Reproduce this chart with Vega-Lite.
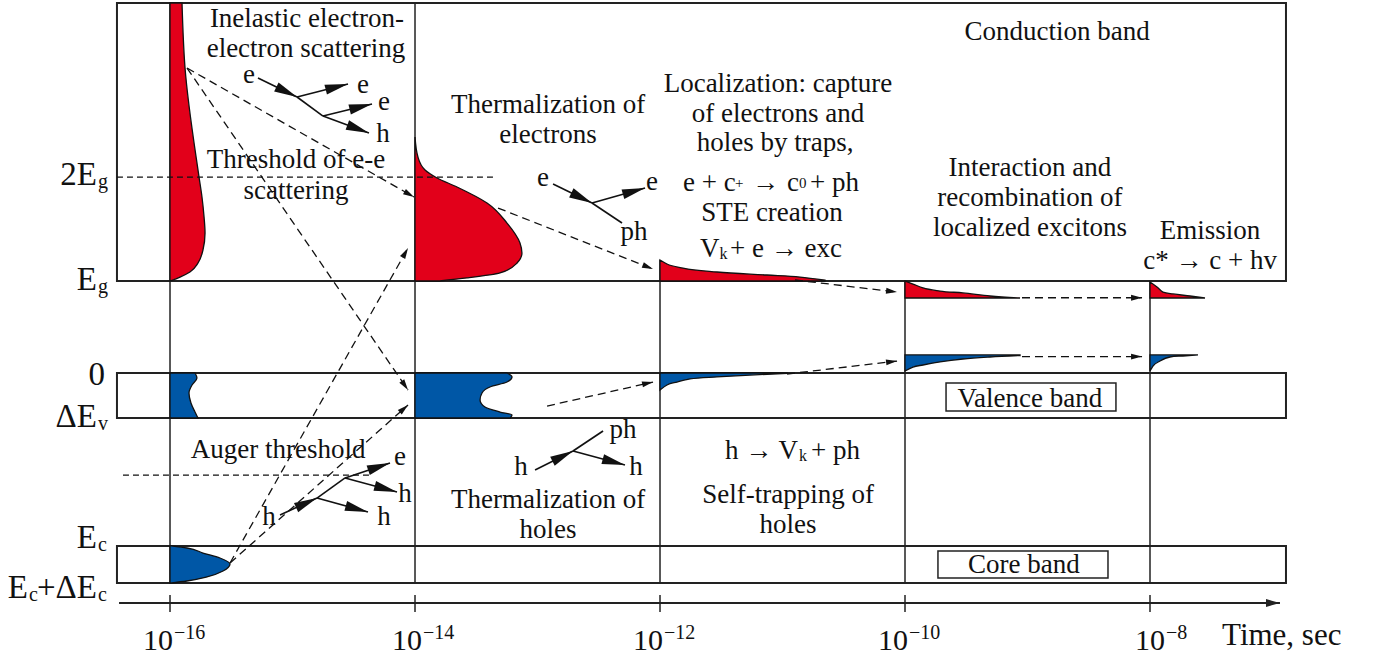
{
  "$schema": "https://vega.github.io/schema/vega-lite/v6.json",
  "width": 1378,
  "height": 657,
  "autosize": {"type": "none"},
  "padding": 0,
  "background": "white",
  "config": {"view": {"stroke": null}, "font": "Liberation Serif"},
  "datasets": {
    "bands": [
      {"band": "conduction", "t": -16.433, "t2": -6.89, "e": 10, "e2": 40.22},
      {"band": "valence", "t": -16.433, "t2": -6.89, "e": -4.89, "e2": 0},
      {"band": "core", "t": -16.433, "t2": -6.89, "e": -22.83, "e2": -18.8}
    ],
    "labelBoxes": [
      {"t": -9.665, "t2": -8.278, "e": -4.13, "e2": -1.09},
      {"t": -9.731, "t2": -8.343, "e": -22.28, "e2": -19.35}
    ],
    "stages": [
      {"t": -16, "e": -22.83, "e2": 40.22},
      {"t": -14, "e": -22.83, "e2": 40.22},
      {"t": -12, "e": -22.83, "e2": 12.28},
      {"t": -10, "e": -22.83, "e2": 10},
      {"t": -8, "e": -22.83, "e2": 10}
    ],
    "shapesH": [
      {"shape": "r1", "carrier": "electrons", "e": 10, "t": -16, "t2": -16},
      {"shape": "r1", "carrier": "electrons", "e": 10.43, "t": -15.918, "t2": -16},
      {"shape": "r1", "carrier": "electrons", "e": 10.98, "t": -15.837, "t2": -16},
      {"shape": "r1", "carrier": "electrons", "e": 11.96, "t": -15.771, "t2": -16},
      {"shape": "r1", "carrier": "electrons", "e": 13.37, "t": -15.731, "t2": -16},
      {"shape": "r1", "carrier": "electrons", "e": 15.22, "t": -15.714, "t2": -16},
      {"shape": "r1", "carrier": "electrons", "e": 16.96, "t": -15.722, "t2": -16},
      {"shape": "r1", "carrier": "electrons", "e": 19.13, "t": -15.739, "t2": -16},
      {"shape": "r1", "carrier": "electrons", "e": 21.3, "t": -15.763, "t2": -16},
      {"shape": "r1", "carrier": "electrons", "e": 33.26, "t": -15.878, "t2": -16},
      {"shape": "r1", "carrier": "electrons", "e": 40.22, "t": -15.902, "t2": -16},
      {"shape": "r2", "carrier": "electrons", "e": 10, "t": -13.8, "t2": -14},
      {"shape": "r2", "carrier": "electrons", "e": 10.33, "t": -13.576, "t2": -14},
      {"shape": "r2", "carrier": "electrons", "e": 10.87, "t": -13.306, "t2": -14},
      {"shape": "r2", "carrier": "electrons", "e": 11.96, "t": -13.167, "t2": -14},
      {"shape": "r2", "carrier": "electrons", "e": 13.04, "t": -13.127, "t2": -14},
      {"shape": "r2", "carrier": "electrons", "e": 14.13, "t": -13.143, "t2": -14},
      {"shape": "r2", "carrier": "electrons", "e": 16.3, "t": -13.249, "t2": -14},
      {"shape": "r2", "carrier": "electrons", "e": 18.48, "t": -13.412, "t2": -14},
      {"shape": "r2", "carrier": "electrons", "e": 20.22, "t": -13.657, "t2": -14},
      {"shape": "r2", "carrier": "electrons", "e": 21.2, "t": -13.82, "t2": -14},
      {"shape": "r2", "carrier": "electrons", "e": 22.07, "t": -13.918, "t2": -14},
      {"shape": "r2", "carrier": "electrons", "e": 23.48, "t": -13.976, "t2": -14},
      {"shape": "r2", "carrier": "electrons", "e": 25.65, "t": -14, "t2": -14},
      {"shape": "b1", "carrier": "holes", "e": -4.89, "t": -15.771, "t2": -16},
      {"shape": "b1", "carrier": "holes", "e": -4.67, "t": -15.78, "t2": -16},
      {"shape": "b1", "carrier": "holes", "e": -4.24, "t": -15.796, "t2": -16},
      {"shape": "b1", "carrier": "holes", "e": -3.26, "t": -15.829, "t2": -16},
      {"shape": "b1", "carrier": "holes", "e": -2.17, "t": -15.845, "t2": -16},
      {"shape": "b1", "carrier": "holes", "e": -1.3, "t": -15.82, "t2": -16},
      {"shape": "b1", "carrier": "holes", "e": -0.54, "t": -15.78, "t2": -16},
      {"shape": "b1", "carrier": "holes", "e": 0, "t": -15.796, "t2": -16},
      {"shape": "b2", "carrier": "holes", "e": -4.89, "t": -13.224, "t2": -14},
      {"shape": "b2", "carrier": "holes", "e": -4.57, "t": -13.208, "t2": -14},
      {"shape": "b2", "carrier": "holes", "e": -4.24, "t": -13.306, "t2": -14},
      {"shape": "b2", "carrier": "holes", "e": -3.7, "t": -13.429, "t2": -14},
      {"shape": "b2", "carrier": "holes", "e": -2.93, "t": -13.469, "t2": -14},
      {"shape": "b2", "carrier": "holes", "e": -2.17, "t": -13.453, "t2": -14},
      {"shape": "b2", "carrier": "holes", "e": -1.52, "t": -13.388, "t2": -14},
      {"shape": "b2", "carrier": "holes", "e": -0.98, "t": -13.249, "t2": -14},
      {"shape": "b2", "carrier": "holes", "e": -0.43, "t": -13.208, "t2": -14},
      {"shape": "b2", "carrier": "holes", "e": 0, "t": -13.249, "t2": -14},
      {"shape": "b3", "carrier": "holes", "e": -22.83, "t": -16, "t2": -16},
      {"shape": "b3", "carrier": "holes", "e": -22.61, "t": -15.861, "t2": -16},
      {"shape": "b3", "carrier": "holes", "e": -22.17, "t": -15.698, "t2": -16},
      {"shape": "b3", "carrier": "holes", "e": -21.52, "t": -15.567, "t2": -16},
      {"shape": "b3", "carrier": "holes", "e": -20.76, "t": -15.51, "t2": -16},
      {"shape": "b3", "carrier": "holes", "e": -20.11, "t": -15.592, "t2": -16},
      {"shape": "b3", "carrier": "holes", "e": -19.57, "t": -15.731, "t2": -16},
      {"shape": "b3", "carrier": "holes", "e": -19.02, "t": -15.861, "t2": -16},
      {"shape": "b3", "carrier": "holes", "e": -18.8, "t": -15.99, "t2": -16}
    ],
    "shapesV": [
      {"shape": "r3", "carrier": "electrons", "t": -12, "e": 12.28, "e2": 10},
      {"shape": "r3", "carrier": "electrons", "t": -11.943, "e": 11.85, "e2": 10},
      {"shape": "r3", "carrier": "electrons", "t": -11.812, "e": 11.41, "e2": 10},
      {"shape": "r3", "carrier": "electrons", "t": -11.535, "e": 10.98, "e2": 10},
      {"shape": "r3", "carrier": "electrons", "t": -11.127, "e": 10.65, "e2": 10},
      {"shape": "r3", "carrier": "electrons", "t": -10.857, "e": 10.43, "e2": 10},
      {"shape": "r3", "carrier": "electrons", "t": -10.653, "e": 10.1, "e2": 10},
      {"shape": "r4", "carrier": "electrons", "t": -10, "e": 10, "e2": 8.15},
      {"shape": "r4", "carrier": "electrons", "t": -9.935, "e": 9.67, "e2": 8.15},
      {"shape": "r4", "carrier": "electrons", "t": -9.853, "e": 9.24, "e2": 8.15},
      {"shape": "r4", "carrier": "electrons", "t": -9.714, "e": 8.91, "e2": 8.15},
      {"shape": "r4", "carrier": "electrons", "t": -9.527, "e": 8.7, "e2": 8.15},
      {"shape": "r4", "carrier": "electrons", "t": -9.306, "e": 8.37, "e2": 8.15},
      {"shape": "r4", "carrier": "electrons", "t": -9.061, "e": 8.15, "e2": 8.15},
      {"shape": "r5", "carrier": "electrons", "t": -8, "e": 9.89, "e2": 8.15},
      {"shape": "r5", "carrier": "electrons", "t": -7.943, "e": 9.35, "e2": 8.15},
      {"shape": "r5", "carrier": "electrons", "t": -7.894, "e": 8.8, "e2": 8.15},
      {"shape": "r5", "carrier": "electrons", "t": -7.812, "e": 8.59, "e2": 8.15},
      {"shape": "r5", "carrier": "electrons", "t": -7.673, "e": 8.37, "e2": 8.15},
      {"shape": "r5", "carrier": "electrons", "t": -7.551, "e": 8.15, "e2": 8.15},
      {"shape": "b4", "carrier": "holes", "t": -12, "e": -1.85, "e2": 0},
      {"shape": "b4", "carrier": "holes", "t": -11.943, "e": -1.3, "e2": 0},
      {"shape": "b4", "carrier": "holes", "t": -11.861, "e": -0.98, "e2": 0},
      {"shape": "b4", "carrier": "holes", "t": -11.755, "e": -0.65, "e2": 0},
      {"shape": "b4", "carrier": "holes", "t": -11.535, "e": -0.43, "e2": 0},
      {"shape": "b4", "carrier": "holes", "t": -11.265, "e": -0.22, "e2": 0},
      {"shape": "b4", "carrier": "holes", "t": -10.963, "e": -0.05, "e2": 0},
      {"shape": "b5", "carrier": "holes", "t": -10, "e": 0.22, "e2": 1.96},
      {"shape": "b5", "carrier": "holes", "t": -9.935, "e": 0.65, "e2": 1.96},
      {"shape": "b5", "carrier": "holes", "t": -9.853, "e": 0.87, "e2": 1.96},
      {"shape": "b5", "carrier": "holes", "t": -9.714, "e": 1.2, "e2": 1.96},
      {"shape": "b5", "carrier": "holes", "t": -9.527, "e": 1.52, "e2": 1.96},
      {"shape": "b5", "carrier": "holes", "t": -9.306, "e": 1.74, "e2": 1.96},
      {"shape": "b5", "carrier": "holes", "t": -9.061, "e": 1.9, "e2": 1.96},
      {"shape": "b6", "carrier": "holes", "t": -8, "e": 0.22, "e2": 1.96},
      {"shape": "b6", "carrier": "holes", "t": -7.976, "e": 0.76, "e2": 1.96},
      {"shape": "b6", "carrier": "holes", "t": -7.918, "e": 1.3, "e2": 1.96},
      {"shape": "b6", "carrier": "holes", "t": -7.837, "e": 1.74, "e2": 1.96},
      {"shape": "b6", "carrier": "holes", "t": -7.731, "e": 1.85, "e2": 1.96},
      {"shape": "b6", "carrier": "holes", "t": -7.608, "e": 1.96, "e2": 1.96}
    ],
    "thresholds": [
      {"t": -16.433, "e": 21.3, "t2": -13.331, "e2": 21.3},
      {"t": -16.384, "e": -11.09, "t2": -14.351, "e2": -11.09}
    ],
    "transfers": [
      {"t": -15.861, "e": 33.15, "t2": -14.008, "e2": 19.13},
      {"t": -15.861, "e": 33.15, "t2": -14.057, "e2": -1.85},
      {"t": -15.51, "e": -20.65, "t2": -14.057, "e2": 13.59},
      {"t": -15.51, "e": -20.65, "t2": -14.057, "e2": -3.48},
      {"t": -13.322, "e": 17.93, "t2": -12.057, "e2": 11.3},
      {"t": -12.922, "e": -3.59, "t2": -12.057, "e2": -0.98},
      {"t": -10.898, "e": 10.11, "t2": -10.065, "e2": 8.8},
      {"t": -10.963, "e": -0.11, "t2": -10.065, "e2": 1.3},
      {"t": -9.045, "e": 8.18, "t2": -8.065, "e2": 8.18},
      {"t": -9.045, "e": 1.78, "t2": -8.065, "e2": 1.78}
    ],
    "scatterArrows": [
      {"t": -15.282, "e": 32.07, "t2": -14.963, "e2": 30.0},
      {"t": -14.963, "e": 30.0, "t2": -14.547, "e2": 31.41},
      {"t": -14.751, "e": 27.93, "t2": -14.351, "e2": 29.24},
      {"t": -14.751, "e": 27.93, "t2": -14.376, "e2": 26.09},
      {"t": -12.873, "e": 20.54, "t2": -12.555, "e2": 18.48},
      {"t": -12.555, "e": 18.48, "t2": -12.122, "e2": 20.11},
      {"t": -13.02, "e": -10.54, "t2": -12.71, "e2": -8.48},
      {"t": -12.71, "e": -8.48, "t2": -12.286, "e2": -10.0},
      {"t": -15.102, "e": -15.43, "t2": -14.8, "e2": -13.59},
      {"t": -14.8, "e": -13.59, "t2": -14.384, "e2": -15.11},
      {"t": -14.571, "e": -11.41, "t2": -14.204, "e2": -9.78},
      {"t": -14.571, "e": -11.41, "t2": -14.147, "e2": -12.93}
    ],
    "scatterLines": [
      {"t": -14.963, "e": 30.0, "t2": -14.751, "e2": 27.93},
      {"t": -12.555, "e": 18.48, "t2": -12.31, "e2": 16.3},
      {"t": -12.71, "e": -8.48, "t2": -12.465, "e2": -6.3},
      {"t": -14.8, "e": -13.59, "t2": -14.571, "e2": -11.41}
    ],
    "timeAxis": [
      {"t": -16.416, "e": -25.0, "t2": -6.939, "e2": -25.0}
    ],
    "ticks": [
      {"t": -16, "lt": -16, "e": -25.98, "e2": -24.13, "le": -30.11, "mant": "10", "exp": "−16"},
      {"t": -14, "lt": -13.967, "e": -25.98, "e2": -24.13, "le": -30.11, "mant": "10", "exp": "−14"},
      {"t": -12, "lt": -12, "e": -25.98, "e2": -24.13, "le": -30.11, "mant": "10", "exp": "−12"},
      {"t": -10, "lt": -10, "e": -25.98, "e2": -24.13, "le": -30.11, "mant": "10", "exp": "−10"},
      {"t": -8, "lt": -7.902, "e": -25.98, "e2": -24.13, "le": -30.11, "mant": "10", "exp": "−8"}
    ],
    "axisTitle": [
      {"text": "Time, sec", "t": -7.412, "e": -29.57}
    ],
    "levels": [
      {"main": "2E", "sub": "g", "t": -16.596, "e": 20.43},
      {"main": "E", "sub": "g", "t": -16.596, "e": 9.02},
      {"main": "0", "sub": "", "t": -16.531, "e": -1.3},
      {"main": "ΔE", "sub": "v", "t": -16.596, "e": -5.87},
      {"main": "E", "sub": "c", "t": -16.596, "e": -19.02},
      {"main": "E", "sub": "c", "t": -17.159, "e": -24.46},
      {"main": "+ΔE", "sub": "c", "t": -16.596, "e": -24.46}
    ],
    "formulaMain": [
      {"text": "e + c", "t": -11.812, "e": 19.78},
      {"text": "→", "t": -11.249, "e": 19.78},
      {"text": "c", "t": -10.963, "e": 19.78},
      {"text": "+ ph", "t": -10.776, "e": 19.78},
      {"text": "V", "t": -11.673, "e": 12.61},
      {"text": "+ e → exc", "t": -11.429, "e": 12.61},
      {"text": "h → V", "t": -11.469, "e": -9.35},
      {"text": "+ ph", "t": -10.767, "e": -9.35}
    ],
    "formulaSup": [
      {"text": "+", "t": -11.388, "e": 19.78},
      {"text": "0", "t": -10.865, "e": 19.78}
    ],
    "formulaSub": [
      {"text": "k", "t": -11.514, "e": 12.61},
      {"text": "k", "t": -10.865, "e": -9.35}
    ],
    "notes": [
      {"text": "Inelastic electron-", "t": -14.882, "e": 37.61},
      {"text": "electron scattering", "t": -14.89, "e": 34.35},
      {"text": "Threshold of e-e", "t": -14.971, "e": 22.28},
      {"text": "scattering", "t": -14.971, "e": 18.91},
      {"text": "Thermalization of", "t": -12.914, "e": 28.26},
      {"text": "electrons", "t": -12.914, "e": 25.0},
      {"text": "Localization: capture", "t": -11.037, "e": 30.54},
      {"text": "of electrons and", "t": -11.037, "e": 27.28},
      {"text": "holes by traps,", "t": -11.061, "e": 24.13},
      {"text": "STE creation", "t": -11.086, "e": 16.52},
      {"text": "Conduction band", "t": -8.759, "e": 36.2},
      {"text": "Interaction and", "t": -8.98, "e": 21.41},
      {"text": "recombination of", "t": -8.98, "e": 18.15},
      {"text": "localized excitons", "t": -8.98, "e": 14.89},
      {"text": "Emission", "t": -7.51, "e": 14.57},
      {"text": "c* → c + hv", "t": -7.51, "e": 11.3},
      {"text": "Valence band", "t": -8.98, "e": -3.7},
      {"text": "Core band", "t": -9.029, "e": -21.74},
      {"text": "Auger threshold", "t": -15.118, "e": -9.24},
      {"text": "Thermalization of", "t": -12.914, "e": -14.67},
      {"text": "holes", "t": -12.914, "e": -17.93},
      {"text": "Self-trapping of", "t": -10.955, "e": -14.13},
      {"text": "holes", "t": -10.955, "e": -17.39},
      {"text": "e", "t": -15.355, "e": 31.5},
      {"text": "e", "t": -14.424, "e": 30.43},
      {"text": "e", "t": -14.253, "e": 28.59},
      {"text": "h", "t": -14.261, "e": 25.11},
      {"text": "e", "t": -12.955, "e": 20.33},
      {"text": "e", "t": -12.065, "e": 19.89},
      {"text": "ph", "t": -12.212, "e": 14.46},
      {"text": "h", "t": -13.135, "e": -11.09},
      {"text": "ph", "t": -12.302, "e": -7.07},
      {"text": "h", "t": -12.196, "e": -11.09},
      {"text": "h", "t": -15.192, "e": -16.52},
      {"text": "h", "t": -14.253, "e": -16.52},
      {"text": "e", "t": -14.122, "e": -10.0},
      {"text": "h", "t": -14.082, "e": -14.02}
    ]
  },
  "layer": [
    {
      "data": {"name": "bands"},
      "mark": {"type": "rect", "filled": false, "stroke": "#222", "strokeWidth": 2},
      "encoding": {
        "x": {"field": "t", "type": "quantitative", "scale": {"domain": [-17.3878, -6.1388], "nice": false, "zero": false}, "axis": null},
        "x2": {"field": "t2"},
        "y": {"field": "e", "type": "quantitative", "scale": {"domain": [-30.8696, 40.5435], "nice": false, "zero": false}, "axis": null},
        "y2": {"field": "e2"}
      }
    },
    {
      "data": {"name": "labelBoxes"},
      "mark": {"type": "rect", "filled": false, "stroke": "#222", "strokeWidth": 1.5},
      "encoding": {
        "x": {"field": "t", "type": "quantitative", "scale": {"domain": [-17.3878, -6.1388], "nice": false, "zero": false}, "axis": null},
        "x2": {"field": "t2"},
        "y": {"field": "e", "type": "quantitative", "scale": {"domain": [-30.8696, 40.5435], "nice": false, "zero": false}, "axis": null},
        "y2": {"field": "e2"}
      }
    },
    {
      "data": {"name": "stages"},
      "mark": {"type": "rule", "color": "#222", "strokeWidth": 1.5},
      "encoding": {
        "x": {"field": "t", "type": "quantitative", "scale": {"domain": [-17.3878, -6.1388], "nice": false, "zero": false}, "axis": null},
        "y": {"field": "e", "type": "quantitative", "scale": {"domain": [-30.8696, 40.5435], "nice": false, "zero": false}, "axis": null},
        "y2": {"field": "e2"}
      }
    },
    {
      "data": {"name": "shapesH"},
      "mark": {"type": "area", "orient": "horizontal", "interpolate": "monotone", "stroke": "#111", "strokeWidth": 1.3, "opacity": 1},
      "encoding": {
        "y": {"field": "e", "type": "quantitative", "scale": {"domain": [-30.8696, 40.5435], "nice": false, "zero": false}, "axis": null},
        "x": {"field": "t", "type": "quantitative", "stack": null, "scale": {"domain": [-17.3878, -6.1388], "nice": false, "zero": false}, "axis": null},
        "x2": {"field": "t2"},
        "color": {"field": "carrier", "type": "nominal", "scale": {"domain": ["electrons", "holes"], "range": ["#E2001A", "#0057A6"]}, "legend": null},
        "detail": {"field": "shape"}
      }
    },
    {
      "data": {"name": "shapesV"},
      "mark": {"type": "area", "orient": "vertical", "interpolate": "monotone", "stroke": "#111", "strokeWidth": 1.3, "opacity": 1},
      "encoding": {
        "x": {"field": "t", "type": "quantitative", "scale": {"domain": [-17.3878, -6.1388], "nice": false, "zero": false}, "axis": null},
        "y": {"field": "e", "type": "quantitative", "stack": null, "scale": {"domain": [-30.8696, 40.5435], "nice": false, "zero": false}, "axis": null},
        "y2": {"field": "e2"},
        "color": {"field": "carrier", "type": "nominal", "scale": {"domain": ["electrons", "holes"], "range": ["#E2001A", "#0057A6"]}, "legend": null},
        "detail": {"field": "shape"}
      }
    },
    {
      "data": {"name": "thresholds"},
      "mark": {"type": "rule", "color": "#111", "strokeWidth": 1.3, "strokeDash": [6, 4]},
      "encoding": {
        "x": {"field": "t", "type": "quantitative", "scale": {"domain": [-17.3878, -6.1388], "nice": false, "zero": false}, "axis": null},
        "x2": {"field": "t2"},
        "y": {"field": "e", "type": "quantitative", "scale": {"domain": [-30.8696, 40.5435], "nice": false, "zero": false}, "axis": null},
        "y2": {"field": "e2"}
      }
    },
    {
      "data": {"name": "transfers"},
      "mark": {"type": "rule", "color": "#111", "strokeWidth": 1.3, "strokeDash": [8, 5]},
      "encoding": {
        "x": {"field": "t", "type": "quantitative", "scale": {"domain": [-17.3878, -6.1388], "nice": false, "zero": false}, "axis": null},
        "x2": {"field": "t2"},
        "y": {"field": "e", "type": "quantitative", "scale": {"domain": [-30.8696, 40.5435], "nice": false, "zero": false}, "axis": null},
        "y2": {"field": "e2"}
      }
    },
    {
      "data": {"name": "transfers"},
      "transform": [{"calculate": "atan2((datum.t2 - datum.t) * 122.5, (datum.e2 - datum.e) * 9.2) * 180 / PI", "as": "ang"}],
      "mark": {"type": "point", "shape": "M0,0L0.27,1L-0.27,1Z", "size": 484, "filled": true, "color": "#111", "opacity": 1, "strokeWidth": 0},
      "encoding": {
        "x": {"field": "t2", "type": "quantitative", "scale": {"domain": [-17.3878, -6.1388], "nice": false, "zero": false}, "axis": null},
        "y": {"field": "e2", "type": "quantitative", "scale": {"domain": [-30.8696, 40.5435], "nice": false, "zero": false}, "axis": null},
        "angle": {"field": "ang", "type": "quantitative", "scale": null}
      }
    },
    {
      "data": {"name": "scatterLines"},
      "mark": {"type": "rule", "color": "#111", "strokeWidth": 1.6},
      "encoding": {
        "x": {"field": "t", "type": "quantitative", "scale": {"domain": [-17.3878, -6.1388], "nice": false, "zero": false}, "axis": null},
        "x2": {"field": "t2"},
        "y": {"field": "e", "type": "quantitative", "scale": {"domain": [-30.8696, 40.5435], "nice": false, "zero": false}, "axis": null},
        "y2": {"field": "e2"}
      }
    },
    {
      "data": {"name": "scatterArrows"},
      "mark": {"type": "rule", "color": "#111", "strokeWidth": 1.6},
      "encoding": {
        "x": {"field": "t", "type": "quantitative", "scale": {"domain": [-17.3878, -6.1388], "nice": false, "zero": false}, "axis": null},
        "x2": {"field": "t2"},
        "y": {"field": "e", "type": "quantitative", "scale": {"domain": [-30.8696, 40.5435], "nice": false, "zero": false}, "axis": null},
        "y2": {"field": "e2"}
      }
    },
    {
      "data": {"name": "scatterArrows"},
      "transform": [{"calculate": "atan2((datum.t2 - datum.t) * 122.5, (datum.e2 - datum.e) * 9.2) * 180 / PI", "as": "ang"}],
      "mark": {"type": "point", "shape": "M0,0L0.22,1L-0.22,1Z", "size": 2116, "filled": true, "color": "#111", "opacity": 1, "strokeWidth": 0},
      "encoding": {
        "x": {"field": "t2", "type": "quantitative", "scale": {"domain": [-17.3878, -6.1388], "nice": false, "zero": false}, "axis": null},
        "y": {"field": "e2", "type": "quantitative", "scale": {"domain": [-30.8696, 40.5435], "nice": false, "zero": false}, "axis": null},
        "angle": {"field": "ang", "type": "quantitative", "scale": null}
      }
    },
    {
      "data": {"name": "timeAxis"},
      "mark": {"type": "rule", "color": "#222", "strokeWidth": 2},
      "encoding": {
        "x": {"field": "t", "type": "quantitative", "scale": {"domain": [-17.3878, -6.1388], "nice": false, "zero": false}, "axis": null},
        "x2": {"field": "t2"},
        "y": {"field": "e", "type": "quantitative", "scale": {"domain": [-30.8696, 40.5435], "nice": false, "zero": false}, "axis": null},
        "y2": {"field": "e2"}
      }
    },
    {
      "data": {"name": "timeAxis"},
      "transform": [{"calculate": "atan2((datum.t2 - datum.t) * 122.5, (datum.e2 - datum.e) * 9.2) * 180 / PI", "as": "ang"}],
      "mark": {"type": "point", "shape": "M0,0L0.28,1L-0.28,1Z", "size": 784, "filled": true, "color": "#222", "opacity": 1, "strokeWidth": 0},
      "encoding": {
        "x": {"field": "t2", "type": "quantitative", "scale": {"domain": [-17.3878, -6.1388], "nice": false, "zero": false}, "axis": null},
        "y": {"field": "e2", "type": "quantitative", "scale": {"domain": [-30.8696, 40.5435], "nice": false, "zero": false}, "axis": null},
        "angle": {"field": "ang", "type": "quantitative", "scale": null}
      }
    },
    {
      "data": {"name": "ticks"},
      "mark": {"type": "rule", "color": "#222", "strokeWidth": 1.5},
      "encoding": {
        "x": {"field": "t", "type": "quantitative", "scale": {"domain": [-17.3878, -6.1388], "nice": false, "zero": false}, "axis": null},
        "y": {"field": "e", "type": "quantitative", "scale": {"domain": [-30.8696, 40.5435], "nice": false, "zero": false}, "axis": null},
        "y2": {"field": "e2"}
      }
    },
    {
      "data": {"name": "ticks"},
      "mark": {"type": "text", "font": "Liberation Serif", "fontSize": 30, "align": "right", "baseline": "alphabetic", "dx": 3, "color": "#111"},
      "encoding": {
        "x": {"field": "lt", "type": "quantitative", "scale": {"domain": [-17.3878, -6.1388], "nice": false, "zero": false}, "axis": null},
        "y": {"field": "le", "type": "quantitative", "scale": {"domain": [-30.8696, 40.5435], "nice": false, "zero": false}, "axis": null},
        "text": {"field": "mant"}
      }
    },
    {
      "data": {"name": "ticks"},
      "mark": {"type": "text", "font": "Liberation Serif", "fontSize": 20, "align": "left", "baseline": "alphabetic", "dx": 4, "dy": -11, "color": "#111"},
      "encoding": {
        "x": {"field": "lt", "type": "quantitative", "scale": {"domain": [-17.3878, -6.1388], "nice": false, "zero": false}, "axis": null},
        "y": {"field": "le", "type": "quantitative", "scale": {"domain": [-30.8696, 40.5435], "nice": false, "zero": false}, "axis": null},
        "text": {"field": "exp"}
      }
    },
    {
      "data": {"name": "axisTitle"},
      "mark": {"type": "text", "font": "Liberation Serif", "fontSize": 31, "align": "left", "baseline": "alphabetic", "color": "#111"},
      "encoding": {
        "x": {"field": "t", "type": "quantitative", "scale": {"domain": [-17.3878, -6.1388], "nice": false, "zero": false}, "axis": null},
        "y": {"field": "e", "type": "quantitative", "scale": {"domain": [-30.8696, 40.5435], "nice": false, "zero": false}, "axis": null},
        "text": {"field": "text"}
      }
    },
    {
      "data": {"name": "levels"},
      "mark": {"type": "text", "font": "Liberation Serif", "fontSize": 33, "align": "right", "baseline": "alphabetic", "color": "#111"},
      "encoding": {
        "x": {"field": "t", "type": "quantitative", "scale": {"domain": [-17.3878, -6.1388], "nice": false, "zero": false}, "axis": null},
        "y": {"field": "e", "type": "quantitative", "scale": {"domain": [-30.8696, 40.5435], "nice": false, "zero": false}, "axis": null},
        "text": {"field": "main"}
      }
    },
    {
      "data": {"name": "levels"},
      "mark": {"type": "text", "font": "Liberation Serif", "fontSize": 20, "align": "left", "baseline": "alphabetic", "dx": 1, "dy": 3, "color": "#111"},
      "encoding": {
        "x": {"field": "t", "type": "quantitative", "scale": {"domain": [-17.3878, -6.1388], "nice": false, "zero": false}, "axis": null},
        "y": {"field": "e", "type": "quantitative", "scale": {"domain": [-30.8696, 40.5435], "nice": false, "zero": false}, "axis": null},
        "text": {"field": "sub"}
      }
    },
    {
      "data": {"name": "formulaMain"},
      "mark": {"type": "text", "font": "Liberation Serif", "fontSize": 27, "align": "left", "baseline": "alphabetic", "color": "#111"},
      "encoding": {
        "x": {"field": "t", "type": "quantitative", "scale": {"domain": [-17.3878, -6.1388], "nice": false, "zero": false}, "axis": null},
        "y": {"field": "e", "type": "quantitative", "scale": {"domain": [-30.8696, 40.5435], "nice": false, "zero": false}, "axis": null},
        "text": {"field": "text"}
      }
    },
    {
      "data": {"name": "formulaSup"},
      "mark": {"type": "text", "font": "Liberation Serif", "fontSize": 15, "align": "left", "baseline": "alphabetic", "dy": -3, "color": "#111"},
      "encoding": {
        "x": {"field": "t", "type": "quantitative", "scale": {"domain": [-17.3878, -6.1388], "nice": false, "zero": false}, "axis": null},
        "y": {"field": "e", "type": "quantitative", "scale": {"domain": [-30.8696, 40.5435], "nice": false, "zero": false}, "axis": null},
        "text": {"field": "text"}
      }
    },
    {
      "data": {"name": "formulaSub"},
      "mark": {"type": "text", "font": "Liberation Serif", "fontSize": 16, "align": "left", "baseline": "alphabetic", "dy": 2, "color": "#111"},
      "encoding": {
        "x": {"field": "t", "type": "quantitative", "scale": {"domain": [-17.3878, -6.1388], "nice": false, "zero": false}, "axis": null},
        "y": {"field": "e", "type": "quantitative", "scale": {"domain": [-30.8696, 40.5435], "nice": false, "zero": false}, "axis": null},
        "text": {"field": "text"}
      }
    },
    {
      "data": {"name": "notes"},
      "mark": {"type": "text", "font": "Liberation Serif", "fontSize": 27, "align": "center", "baseline": "alphabetic", "color": "#111"},
      "encoding": {
        "x": {"field": "t", "type": "quantitative", "scale": {"domain": [-17.3878, -6.1388], "nice": false, "zero": false}, "axis": null},
        "y": {"field": "e", "type": "quantitative", "scale": {"domain": [-30.8696, 40.5435], "nice": false, "zero": false}, "axis": null},
        "text": {"field": "text"}
      }
    }
  ]
}
